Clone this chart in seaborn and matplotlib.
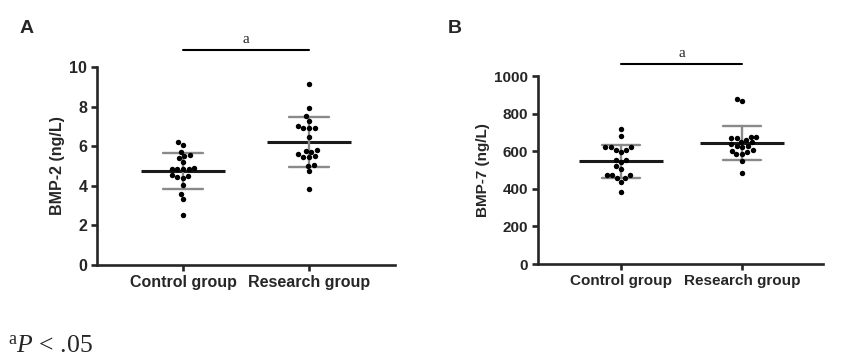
import numpy as np
import pandas as pd
import seaborn as sns
import matplotlib.pyplot as plt

# grupos e valores
groups = ["Control group", "Research group"]
bmp2_control = [6.2, 6.05, 5.7, 5.55, 5.5, 5.4, 5.2, 4.85, 4.85, 4.85, 4.85, 4.9,
                4.55, 4.5, 4.45, 4.4, 4.05, 3.6, 3.35, 2.5]
bmp2_research = [9.14, 7.91, 7.52, 7.29, 6.9, 6.9, 7.02, 6.9, 6.45, 5.72, 5.47, 5.76,
                 5.47, 5.81, 5.5, 5.6, 5.02, 5.05, 4.75, 3.84]
bmp7_control = [718, 682, 606, 622, 622, 606, 622, 595, 556, 556, 545, 520, 505,
                475, 475, 472, 458, 460, 438, 385]
bmp7_research = [865, 877, 672, 676, 676, 672, 660, 650, 648, 640, 630, 628, 622,
                 605, 603, 596, 586, 588, 549, 483]
yticks_a = [0, 2, 4, 6, 8, 10]
yticks_b = [0, 200, 400, 600, 800, 1000]

sns.set_style("ticks")
plt.rcParams["font.family"] = ["Liberation Sans", "DejaVu Sans"]
plt.rcParams["mathtext.fontset"] = "custom"
plt.rcParams["mathtext.rm"] = "Liberation Serif"
plt.rcParams["mathtext.it"] = "Liberation Serif:italic"

fig = plt.figure(figsize=(8.42, 3.62), dpi=100)
ax_a = fig.add_axes([0.1152, 0.268, 0.354, 0.547])
ax_b = fig.add_axes([0.639, 0.2707, 0.3385, 0.519])


def painel(ax, control, research, ylabel, yticks, xlim, fs, sig_y):
    df = pd.DataFrame({"grupo": [groups[0]] * len(control) + [groups[1]] * len(research),
                       "valor": control + research})
    sns.swarmplot(data=df, x="grupo", y="valor", order=groups, color="black",
                  size=3.9, ax=ax, zorder=3)
    # media e desvio padrao
    sns.pointplot(data=df, x="grupo", y="valor", order=groups, errorbar="sd",
                  capsize=0.32, color="#1a1a1a", marker="_", markersize=60,
                  markeredgewidth=2.2, linestyle="none",
                  err_kws={"color": "#8a8a8a", "linewidth": 1.7}, ax=ax)
    ax.set_xlim(*xlim)
    ax.set_ylim(yticks[0], yticks[-1])
    ax.set_yticks(yticks)
    ax.set_xlabel("")
    ax.set_ylabel(ylabel, fontsize=fs, fontweight="bold", labelpad=3)
    for s in ["top", "right"]:
        ax.spines[s].set_visible(False)
    for s in ["left", "bottom"]:
        ax.spines[s].set_linewidth(1.9)
    ax.tick_params(width=1.9, length=4.5, pad=2.5, labelsize=fs)
    for lab in ax.get_xticklabels() + ax.get_yticklabels():
        lab.set_fontweight("bold")
    # barra de significancia
    ax.plot([0, 1], [sig_y, sig_y], color="black", lw=1.5, clip_on=False)
    ax.text(0.5, sig_y + (yticks[-1] * 0.022), "a", ha="center", va="bottom",
            family="Liberation Serif", fontsize=11)


painel(ax_a, bmp2_control, bmp2_research, "BMP-2 (ng/L)", yticks_a,
       (-0.683, 1.683), 11.5, 10.86)
painel(ax_b, bmp7_control, bmp7_research, "BMP-7 (ng/L)", yticks_b,
       (-0.686, 1.669), 11, 1064)

fig.text(0.032, 0.92, "A", fontsize=14, fontweight="bold", ha="center", va="center")
fig.text(0.540, 0.92, "B", fontsize=14, fontweight="bold", ha="center", va="center")
fig.text(0.009, 0.026, r"$^{\rm a}P$ < .05", family="Liberation Serif", fontsize=18.5,
         ha="left", va="baseline")

fig.savefig("out.png", dpi=100)
